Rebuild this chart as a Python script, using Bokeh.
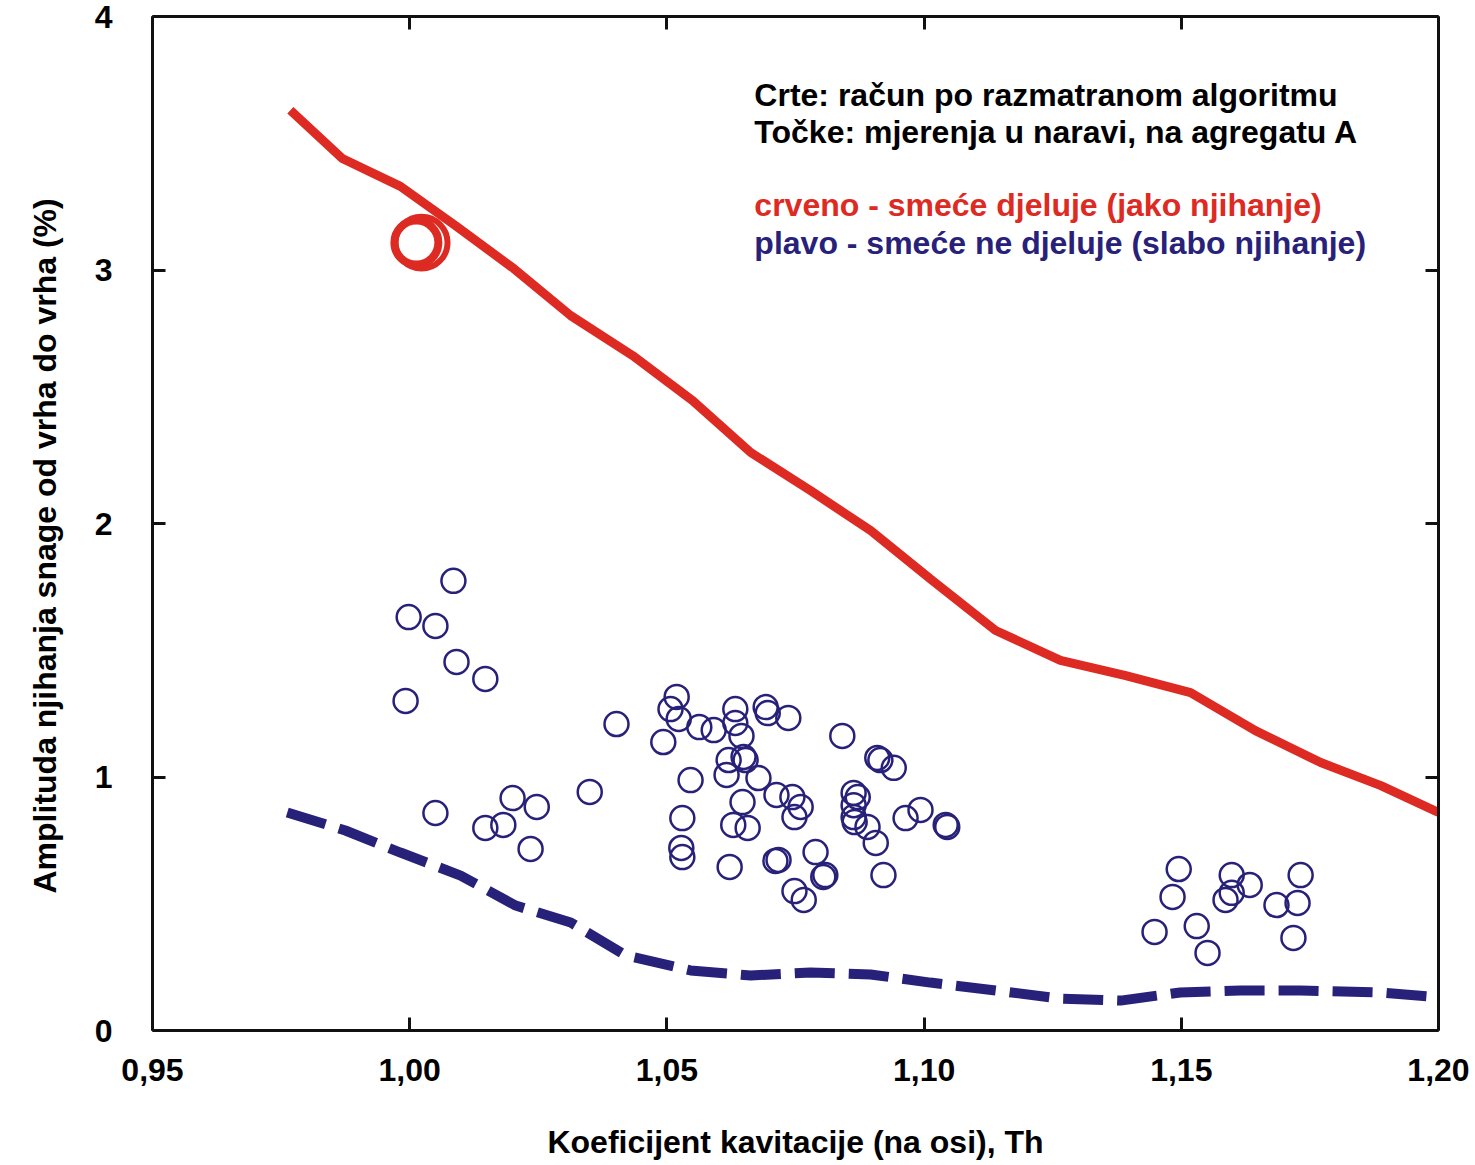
from bokeh.plotting import figure
from bokeh.models import (LinearAxis, FixedTicker, CustomJSTickFormatter, Label, Range1d,
                          Title)
from bokeh.embed import file_html
from bokeh.resources import INLINE

RED = "#DD2A22"
NAVY = "#28217A"
FONT = "Liberation Sans"

# computed amplitude, "smeće djeluje" (red curve)
red_x = [0.9768, 0.9869, 0.9982, 1.0089, 1.0202, 1.0313, 1.0433, 1.0550, 1.0663,
         1.0779, 1.0896, 1.1016, 1.1139, 1.1265, 1.1392, 1.1518, 1.1644, 1.1771,
         1.1888, 1.2000]
red_y = [3.63, 3.44, 3.33, 3.175, 3.006, 2.82, 2.663, 2.485, 2.28,
         2.13, 1.972, 1.775, 1.578, 1.46, 1.40, 1.333, 1.183, 1.057,
         0.966, 0.86]

# computed amplitude, "smeće ne djeluje" (blue dashed curve)
blue_x = [0.9762, 0.9875, 0.9982, 1.0099, 1.0206, 1.0313, 1.0420, 1.0546, 1.0663,
          1.0779, 1.0896, 1.1012, 1.1139, 1.1265, 1.1382, 1.1498, 1.1615, 1.1732,
          1.1888, 1.1985]
blue_y = [0.86, 0.789, 0.702, 0.611, 0.493, 0.426, 0.296, 0.237, 0.217,
          0.229, 0.221, 0.189, 0.158, 0.126, 0.118, 0.15, 0.158, 0.158,
          0.15, 0.134]

# field measurements with strong oscillation (red)
meas_red_x = [1.0013, 1.0023]
meas_red_y = [3.108, 3.108]

# field measurements with weak oscillation (blue)
meas_blue_x = [
    1.0085, 0.9998, 1.0050, 1.0091, 1.0147, 0.9992, 1.0402, 1.0350, 1.0050, 1.0200,
    1.0247, 1.0147, 1.0182, 1.0235,
    1.0519, 1.0507, 1.0523, 1.0563, 1.0591, 1.0633, 1.0633, 1.0645, 1.0493, 1.0692,
    1.0696, 1.0736, 1.0841, 1.0909, 1.0915, 1.0941, 1.0620, 1.0653, 1.0649, 1.0616,
    1.0678, 1.0546, 1.0713, 1.0744, 1.0760, 1.0748, 1.0647, 1.0863, 1.0871, 1.0863,
    1.0863, 1.0865, 1.0890, 1.0906, 1.0964, 1.0993, 1.1045, 1.1042, 1.0530, 1.0629,
    1.0657, 1.0528, 1.0530, 1.0622, 1.0711, 1.0717, 1.0789, 1.0804, 1.0808, 1.0748,
    1.0766, 1.0921,
    1.1495, 1.1483, 1.1448, 1.1530, 1.1551, 1.1598, 1.1633, 1.1598, 1.1586, 1.1685,
    1.1732, 1.1726, 1.1718]
meas_blue_y = [
    1.774, 1.631, 1.596, 1.454, 1.387, 1.300, 1.209, 0.941, 0.858, 0.917,
    0.882, 0.799, 0.811, 0.716,
    1.316, 1.268, 1.229, 1.197, 1.185, 1.268, 1.213, 1.162, 1.138, 1.276,
    1.252, 1.233, 1.162, 1.075, 1.067, 1.036, 1.067, 1.067, 1.079, 1.008,
    0.996, 0.988, 0.929, 0.921, 0.882, 0.842, 0.901, 0.937, 0.921, 0.889,
    0.842, 0.822, 0.803, 0.740, 0.838, 0.870, 0.803, 0.811, 0.838, 0.811,
    0.799, 0.720, 0.684, 0.645, 0.669, 0.673, 0.704, 0.606, 0.613, 0.550,
    0.515, 0.613,
    0.637, 0.527, 0.389, 0.412, 0.306, 0.613, 0.574, 0.543, 0.515, 0.495,
    0.613, 0.503, 0.365]

x_ticks = [0.95, 1.00, 1.05, 1.10, 1.15, 1.20]
y_ticks = [0, 1, 2, 3, 4]

p = figure(width=1475, height=1165, output_backend="svg", toolbar_location=None,
           x_range=Range1d(0.95, 1.20), y_range=Range1d(0, 4),
           min_border_left=152, min_border_right=37, min_border_top=16,
           min_border_bottom=135, background_fill_color="white",
           border_fill_color="white")
p.outline_line_color = None
p.xgrid.visible = False
p.ygrid.visible = False

comma_fmt = CustomJSTickFormatter(code="return tick.toFixed(2).replace('.', ',');")
int_fmt = CustomJSTickFormatter(code="return tick.toFixed(0);")
blank_fmt = CustomJSTickFormatter(code="return '';")


def style_axis(ax):
    ax.axis_line_width = 3
    ax.axis_line_color = "#111111"
    ax.major_tick_line_width = 3
    ax.major_tick_line_color = "#111111"
    ax.major_tick_in = 13
    ax.major_tick_out = 0
    ax.minor_tick_line_color = None
    ax.major_label_text_font = FONT
    ax.major_label_text_font_style = "bold"
    ax.major_label_text_font_size = "32px"
    ax.major_label_text_color = "black"
    ax.axis_label_text_font = FONT
    ax.axis_label_text_font_style = "bold"
    ax.axis_label_text_font_size = "32px"
    ax.axis_label_text_color = "black"


xa = p.xaxis[0]
xa.ticker = FixedTicker(ticks=x_ticks)
xa.formatter = comma_fmt
style_axis(xa)
xa.major_label_standoff = 28
xa.axis_label = "Koeficijent kavitacije (na osi), Th"
xa.axis_label_standoff = 40

ya = p.yaxis[0]
ya.ticker = FixedTicker(ticks=y_ticks)
ya.formatter = int_fmt
style_axis(ya)
ya.major_label_standoff = 40

top = LinearAxis(ticker=FixedTicker(ticks=x_ticks), formatter=blank_fmt)
style_axis(top)
top.major_label_standoff = 0
p.add_layout(top, "above")

right = LinearAxis(ticker=FixedTicker(ticks=y_ticks), formatter=blank_fmt)
style_axis(right)
right.major_label_standoff = 0
p.add_layout(right, "right")

# vertical axis title, starting a little above the frame bottom
p.add_layout(Title(text="Amplituda njihanja snage od vrha do vrha (%)",
                   align="left", offset=137, standoff=53, vertical_align="top",
                   text_font=FONT, text_font_style="bold", text_font_size="32px",
                   text_color="black"), "left")

# computed curves
p.line(red_x, red_y, line_color=RED, line_width=9)
p.line(blue_x, blue_y, line_color=NAVY, line_width=10, line_dash="40 14",
       line_cap="butt")

# measurements
p.scatter(meas_blue_x, meas_blue_y, marker="circle", size=24, fill_color=None,
          line_color=NAVY, line_width=2.5)
p.scatter(meas_red_x[:1], meas_red_y[:1], marker="circle", size=44, fill_color=None,
          line_color=RED, line_width=8)
p.scatter(meas_red_x[1:], meas_red_y[1:], marker="circle", size=52, fill_color=None,
          line_color=RED, line_width=6)

# explanatory text
notes = [
    ("Crte: račun po razmatranom algoritmu", 3.690, "black"),
    ("Točke: mjerenja u naravi, na agregatu A", 3.544, "black"),
    ("crveno - smeće djeluje (jako njihanje)", 3.256, RED),
    ("plavo - smeće ne djeluje (slabo njihanje)", 3.106, NAVY),
]
for txt, yy, col in notes:
    p.add_layout(Label(x=1.0670, y=yy, text=txt, text_font=FONT,
                       text_font_style="bold", text_font_size="32px",
                       text_color=col, text_baseline="alphabetic"))

open("out.html", "w").write(file_html(p, INLINE))
